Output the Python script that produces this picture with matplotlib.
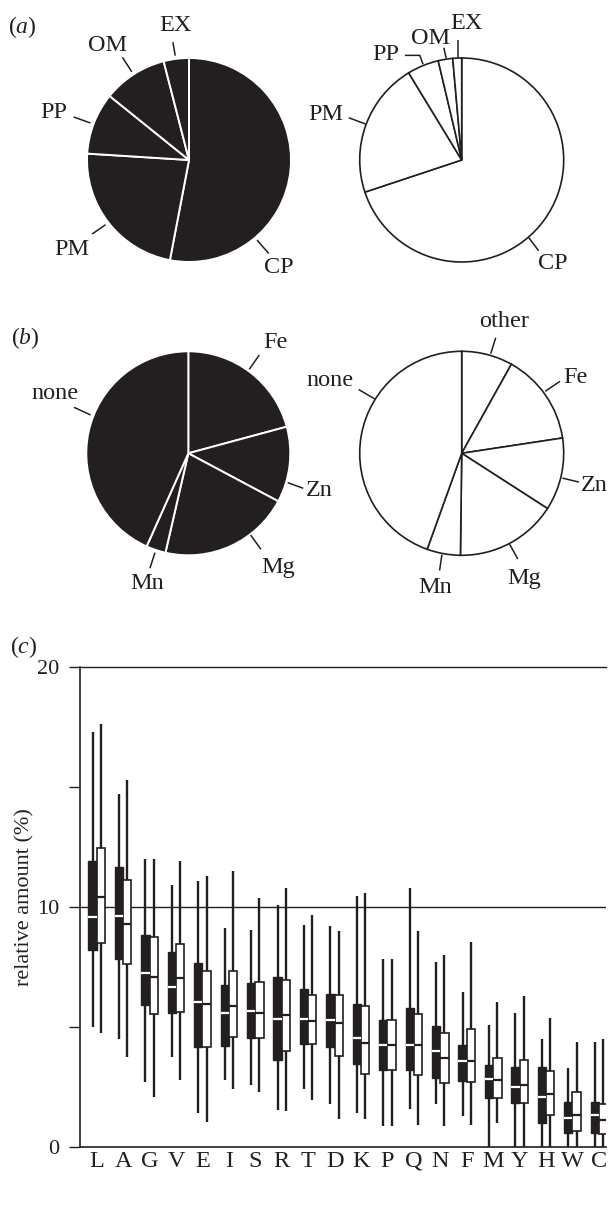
import matplotlib
matplotlib.use('Agg')
import matplotlib.pyplot as plt

plt.rcParams['font.family'] = ['Liberation Serif', 'DejaVu Serif']
plt.rcParams['mathtext.fontset'] = 'custom'
plt.rcParams['mathtext.rm'] = 'Liberation Serif'
plt.rcParams['mathtext.it'] = 'Liberation Serif:italic'

# ---------------- data ----------------
loc_labels = ['CP', 'PM', 'PP', 'OM', 'EX']
loc_values_dark = [53.0, 23.0, 9.8, 10.2, 4.0]
loc_values_light = [69.9, 21.4, 5.0, 2.3, 1.4]

metal_labels_dark = ['Fe', 'Zn', 'Mg', 'Mn', 'none']
metal_values_dark = [20.8, 12.0, 20.8, 3.1, 43.3]
metal_labels_light = ['other', 'Fe', 'Zn', 'Mg', 'Mn', 'none']
metal_values_light = [8.1, 14.5, 11.5, 16.1, 5.3, 44.5]

amino_acids = ['L', 'A', 'G', 'V', 'E', 'I', 'S', 'R', 'T', 'D',
               'K', 'P', 'Q', 'N', 'F', 'M', 'Y', 'H', 'W', 'C']

dark_whishi = [17.3, 14.7, 12.0, 10.9, 11.06, 9.11, 9.04, 10.07, 9.24, 9.18,
               10.46, 7.82, 10.79, 7.68, 6.46, 5.06, 5.57, 4.49, 3.26, 4.35]
dark_q3 = [11.9, 11.64, 8.82, 8.10, 7.64, 6.75, 6.82, 7.07, 6.56, 6.36,
           5.93, 5.28, 5.79, 5.01, 4.22, 3.39, 3.33, 3.32, 1.85, 1.85]
dark_med = [9.57, 9.63, 7.22, 6.67, 6.04, 5.58, 5.67, 5.32, 5.32, 5.28,
            4.54, 4.22, 4.22, 3.97, 3.57, 2.82, 2.47, 2.08, 1.18, 1.32]
dark_q1 = [8.2, 7.82, 5.89, 5.57, 4.15, 4.21, 4.54, 3.63, 4.26, 4.15,
           3.46, 3.18, 3.18, 2.86, 2.72, 2.03, 1.82, 1.0, 0.56, 0.56]
dark_whislo = [5.0, 4.49, 2.68, 3.72, 1.42, 2.78, 2.56, 1.51, 2.39, 1.78,
               1.42, 0.875, 1.57, 1.78, 1.28, 0.0, 0.0, 0.0, 0.0, 0.0]

light_whishi = [17.6, 15.28, 12.0, 11.9, 11.28, 11.5, 10.35, 10.79, 9.64, 8.99,
                10.58, 7.82, 8.99, 7.97, 8.54, 6.03, 6.29, 5.35, 4.37, 4.49]
light_q3 = [12.46, 11.13, 8.72, 8.46, 7.33, 7.33, 6.85, 6.96, 6.33, 6.33,
            5.86, 5.28, 5.51, 4.74, 4.89, 3.68, 3.61, 3.15, 2.29, 1.76]
light_med = [10.42, 9.26, 7.07, 7.01, 5.93, 5.86, 5.58, 5.5, 5.22, 5.14,
             4.31, 4.22, 4.22, 3.68, 3.57, 2.78, 2.57, 2.19, 1.31, 1.11]
light_q1 = [8.49, 7.6, 5.51, 5.63, 4.15, 4.56, 4.54, 3.99, 4.26, 3.78,
            3.04, 3.18, 3.0, 2.64, 2.68, 2.03, 1.82, 1.32, 0.65, 0.51]
light_whislo = [4.75, 3.72, 2.08, 2.76, 1.01, 2.39, 2.26, 1.49, 1.93, 1.15,
                1.15, 0.875, 0.90, 0.875, 0.9, 0.97, 0.0, 0.0, 0.0, 0.0]

y_ticks = [0, 5, 10, 15, 20]
y_ticklabels = ['0', '', '10', '', '20']

# ---------------- layout (positions in pie-radius units) ----------------
DARK = '#231f20'
W, H = 612, 1213
fig = plt.figure(figsize=(W / 100, H / 100), dpi=100)

layout_a_dark = {
    'EX': ([(-0.135, 1.023), (-0.158, 1.155)], (-0.132, 1.32)),
    'OM': ([(-0.561, 0.865), (-0.653, 1.007)], (-0.802, 1.122)),
    'PP': ([(-0.967, 0.363), (-1.132, 0.422)], (-1.33, 0.462)),
    'PM': ([(-0.818, -0.634), (-0.95, -0.726)], (-1.149, -0.875)),
    'CP': ([(0.667, -0.785), (0.782, -0.917)], (0.88, -1.05)),
}
layout_a_light = {
    'EX': ([(-0.039, 1.003), (-0.039, 1.181)], (0.049, 1.343)),
    'OM': ([(-0.152, 0.997), (-0.175, 1.10)], (-0.307, 1.19)),
    'PP': ([(-0.379, 0.939), (-0.411, 1.026), (-0.557, 1.026)], (-0.744, 1.036)),
    'PM': ([(-0.935, 0.35), (-1.107, 0.414)], (-1.333, 0.447)),
    'CP': ([(0.657, -0.761), (0.754, -0.89)], (0.89, -1.019)),
}
layout_b_dark = {
    'Fe': ([(0.598, 0.824), (0.696, 0.964)], (0.85, 1.085)),
    'Zn': ([(0.975, -0.288), (1.127, -0.343)], (1.284, -0.367)),
    'Mg': ([(0.611, -0.801), (0.712, -0.941)], (0.882, -1.118)),
    'Mn': ([(-0.327, -0.974), (-0.376, -1.127)], (-0.408, -1.275)),
    'none': ([(-0.958, 0.376), (-1.121, 0.451)], (-1.307, 0.582)),
}
layout_b_light = {
    'other': ([(0.285, 0.977), (0.333, 1.133)], (0.414, 1.294)),
    'Fe': ([(0.819, 0.608), (0.964, 0.706)], (1.117, 0.744)),
    'Zn': ([(0.987, -0.243), (1.149, -0.282)], (1.304, -0.317)),
    'Mg': ([(0.469, -0.89), (0.55, -1.036)], (0.608, -1.223)),
    'Mn': ([(-0.194, -0.994), (-0.217, -1.149)], (-0.265, -1.311)),
    'none': ([(-0.854, 0.534), (-1.01, 0.625)], (-1.291, 0.712)),
}

LBL_FS = 17.5
S = 306  # pie axes size in px, radius = S/3


def pie_axes(cx, cy):
    ax = fig.add_axes([(cx - S / 2) / W, 1 - (cy + S / 2) / H, S / W, S / H])
    return ax


def draw_pie(cx, cy, values, labels, layout, dark):
    ax = pie_axes(cx, cy)
    if dark:
        wp = dict(edgecolor='white', linewidth=1.4, facecolor=DARK)
        colors = [DARK] * len(values)
    else:
        wp = dict(edgecolor=DARK, linewidth=1.2)
        colors = ['white'] * len(values)
    ax.pie(values, startangle=90, counterclock=False, radius=1.0,
           colors=colors, wedgeprops=wp)
    ax.set_xlim(-1.5, 1.5)
    ax.set_ylim(-1.5, 1.5)
    ax.set_aspect('auto')
    ax.axis('off')
    for lab in labels:
        pts, txt = layout[lab]
        ax.plot([p[0] for p in pts], [p[1] for p in pts], color=DARK,
                lw=1.1, clip_on=False, solid_capstyle='butt')
        ax.text(txt[0], txt[1], lab, ha='center', va='center',
                fontsize=LBL_FS, color=DARK, clip_on=False)
    return ax


draw_pie(189, 160, loc_values_dark, loc_labels, layout_a_dark, True)
draw_pie(461.7, 160, loc_values_light, loc_labels, layout_a_light, False)
draw_pie(188.3, 453.3, metal_values_dark, metal_labels_dark, layout_b_dark, True)
draw_pie(461.7, 453.3, metal_values_light, metal_labels_light, layout_b_light, False)

# ---------------- box plot ----------------
left_px, right_px = 80.0, 605.8
y0_px, y20_px = 1146.7, 666.7
axc = fig.add_axes([left_px / W, 1 - y0_px / H, (right_px - left_px) / W,
                    (y0_px - y20_px) / H])

n = len(amino_acids)
off = 0.157
bw = 0.314


def stats(lo, q1, med, q3, hi):
    return [dict(whislo=a, q1=b, med=c, q3=d, whishi=e, fliers=[])
            for a, b, c, d, e in zip(lo, q1, med, q3, hi)]


dark_stats = stats(dark_whislo, dark_q1, dark_med, dark_q3, dark_whishi)
light_stats = stats(light_whislo, light_q1, light_med, light_q3, light_whishi)

axc.axhline(10, color=DARK, lw=1.0, zorder=0.5)

axc.bxp(dark_stats, positions=[i - off for i in range(n)], widths=bw,
        patch_artist=True, showcaps=False, showfliers=False,
        boxprops=dict(facecolor=DARK, edgecolor=DARK, linewidth=1.0),
        whiskerprops=dict(color=DARK, linewidth=1.7, solid_capstyle='butt'),
        medianprops=dict(color='white', linewidth=1.6, solid_capstyle='butt'),
        manage_ticks=False)
axc.bxp(light_stats, positions=[i + off for i in range(n)], widths=bw,
        patch_artist=True, showcaps=False, showfliers=False,
        boxprops=dict(facecolor='white', edgecolor=DARK, linewidth=1.2),
        whiskerprops=dict(color=DARK, linewidth=1.7, solid_capstyle='butt'),
        medianprops=dict(color=DARK, linewidth=1.6, solid_capstyle='butt'),
        manage_ticks=False)

axc.set_xlim(-0.633, 19.26)
axc.set_ylim(0, 20)
axc.set_xticks(range(n))
axc.set_xticklabels(amino_acids, fontsize=17.5, color=DARK)
axc.tick_params(axis='x', length=0, pad=3)
axc.set_yticks(y_ticks)
axc.set_yticklabels(y_ticklabels, fontsize=16, color=DARK)
axc.tick_params(axis='y', length=8, width=1.0, pad=7, color=DARK)
for side in ['top', 'left', 'bottom']:
    axc.spines[side].set_color(DARK)
    axc.spines[side].set_linewidth(1.0)
axc.spines['left'].set_linewidth(1.2)
axc.spines['bottom'].set_linewidth(1.2)
axc.spines['right'].set_visible(False)
axc.set_ylabel('relative amount (%)', fontsize=16, color=DARK)
axc.yaxis.set_label_coords(-0.087, 0.52)

# panel labels
fig.text(22 / W, 1 - 27 / H, r'($a$)', fontsize=17, ha='center', va='center', color=DARK)
fig.text(25 / W, 1 - 338 / H, r'($b$)', fontsize=17, ha='center', va='center', color=DARK)
fig.text(24 / W, 1 - 647 / H, r'($c$)', fontsize=17, ha='center', va='center', color=DARK)

fig.savefig('out.png', dpi=100)
